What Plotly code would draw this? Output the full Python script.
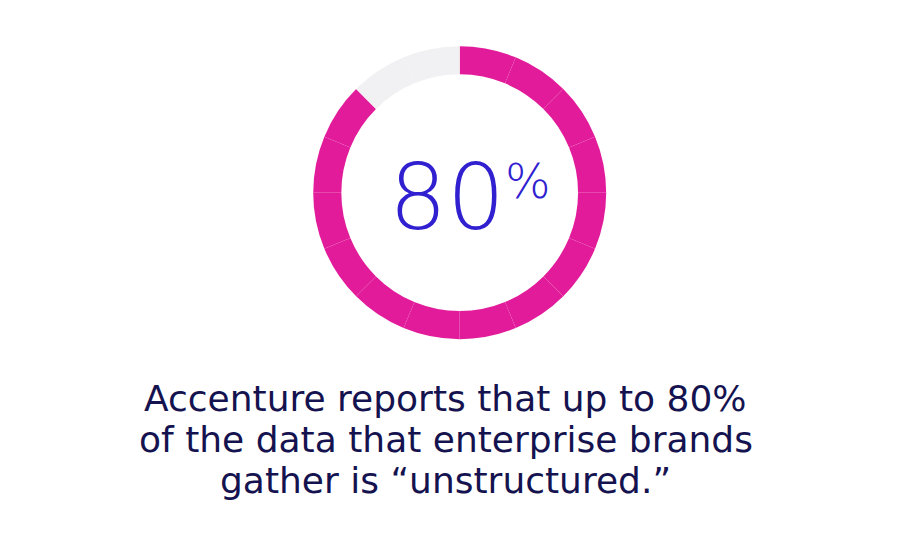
import plotly.graph_objects as go

# 16 equal ring segments: 14 filled (magenta), 2 empty (light grey)
segment_labels = ["s1", "s2", "s3", "s4", "s5", "s6", "s7", "s8",
                  "s9", "s10", "s11", "s12", "s13", "s14", "s15", "s16"]
segment_values = [1, 1, 1, 1, 1, 1, 1, 1, 1, 1, 1, 1, 1, 1, 1, 1]
segment_filled = [True, True, True, True, True, True, True, True,
                  True, True, True, True, True, True, False, False]

big_number = "80"
big_suffix = "%"
caption_lines = ["Accenture reports that up to 80%",
                 "of the data that enterprise brands",
                 "gather is “unstructured.”"]

MAGENTA = "#e21b9b"
GREY = "#f1f1f3"
colors = [MAGENTA if f else GREY for f in segment_filled]

W, H = 897, 552
OFF = 8  # page body margin
cx, cy, r = 459.7 - OFF, 192.7 - OFF, 146.5


def px(x):
    return (x - OFF) / W


def py(y):
    return 1 - (y - OFF) / H


fig = go.Figure(go.Pie(
    labels=segment_labels,
    values=segment_values,
    sort=False,
    direction="clockwise",
    rotation=0,
    hole=0.808,
    marker=dict(colors=colors, line=dict(color="rgba(255,255,255,0.06)", width=0.4)),
    textinfo="none",
    hoverinfo="skip",
    showlegend=False,
    domain=dict(x=[(cx - r) / W, (cx + r) / W], y=[1 - (cy + r) / H, 1 - (cy - r) / H]),
))

fig.add_annotation(
    x=px(447), y=py(197.5), xref="paper", yref="paper",
    text=big_number, showarrow=False, xanchor="center", yanchor="middle",
    font=dict(family="DejaVu Sans", size=91, color="#3020d0", weight=200),
)
fig.add_annotation(
    x=px(528), y=py(181), xref="paper", yref="paper",
    text=big_suffix, showarrow=False, xanchor="center", yanchor="middle",
    font=dict(family="DejaVu Sans", size=48, color="#3020d0", weight=200),
)

CAP_SIZE = 36
baselines = [410, 451, 492]
for line, base in zip(caption_lines, baselines):
    fig.add_annotation(
        x=px(445.5), y=py(base - 0.33 * CAP_SIZE), xref="paper", yref="paper",
        text=line, showarrow=False, xanchor="center", yanchor="middle",
        font=dict(family="DejaVu Sans", size=CAP_SIZE, color="#15134f", weight=400),
    )

fig.update_layout(
    width=W, height=H,
    margin=dict(l=0, r=0, t=0, b=0),
    paper_bgcolor="white", plot_bgcolor="white",
)

fig.write_html("out.html")
